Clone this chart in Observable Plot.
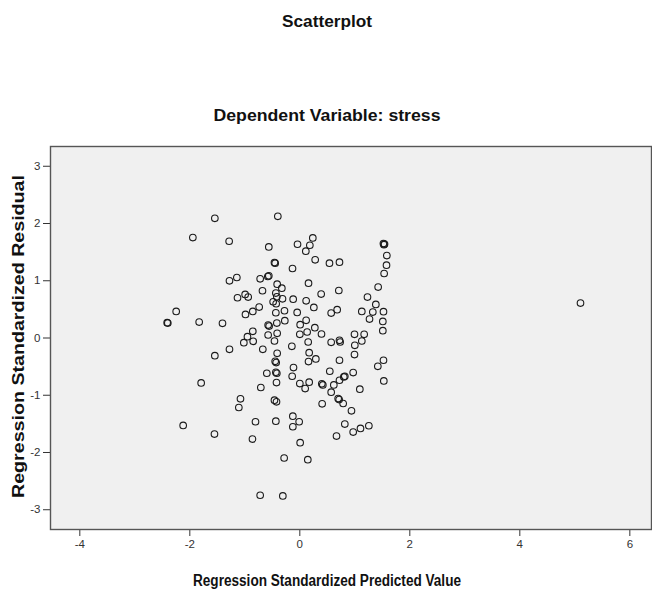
<!DOCTYPE html>
<html><head><meta charset="utf-8">
<script src="https://cdn.jsdelivr.net/npm/d3@7"></script>
<script src="https://cdn.jsdelivr.net/npm/@observablehq/plot@0.6"></script>
<style>body{margin:0;background:#fff;} svg{display:block}</style>
</head><body><div id="chart"></div>
<script>
const predicted = [-1.545,-0.40,-1.945,-1.285,-0.564,-0.042,0.109,0.182,0.236,0.279,
-0.461,-0.448,-0.133,-1.279,-1.145,-0.721,-0.582,-0.564,-0.412,-0.327,
0.158,-0.679,-1.133,-0.994,-0.939,-0.436,-0.418,-0.315,-0.121,0.115,
0.388,-0.485,-0.43,0.255,-0.739,-0.855,-0.988,-0.279,-0.436,-0.048,
-2.412,-2.40,-2.248,-1.83,-1.406,-0.576,-0.558,-0.418,-0.273,0.006,
0.115,0.273,0.394,0.0,0.133,-0.412,-0.576,-0.855,-0.952,-1.018,
-0.848,-0.461,-0.145,0.152,-1.279,-1.545,-0.673,-0.412,0.17,0.291,
0.158,-0.448,-0.43,-0.115,-0.139,-0.6,-0.436,-0.418,-1.794,-0.709,
-0.424,0.0,0.17,0.097,0.4,0.418,-1.079,-1.109,-0.461,-0.424,
0.406,-2.121,-1.552,-0.806,-0.436,-0.127,-0.012,-0.127,-0.861,0.006,
-0.285,0.145,-0.721,-0.309,
1.52,1.54,1.53,1.582,1.576,1.533,1.424,1.23,1.382,1.127,1.327,1.267,1.521,1.509,1.509,
0.539,0.721,0.709,0.679,0.57,0.994,1.17,1.127,1.0,0.57,0.721,0.733,
0.994,0.721,1.521,1.418,1.527,0.545,0.97,0.818,0.8,0.721,0.618,0.57,0.697,0.715,
0.788,1.091,0.939,0.818,0.667,0.97,1.103,1.255,5.103];
const residual = [2.09,2.125,1.754,1.69,1.591,1.638,1.516,1.62,1.748,1.365,
1.318,1.307,1.214,0.999,1.057,1.034,1.074,1.086,0.941,0.871,
0.958,0.825,0.703,0.761,0.714,0.784,0.72,0.685,0.679,0.65,
0.767,0.633,0.598,0.534,0.54,0.465,0.412,0.476,0.441,0.447,
0.267,0.261,0.465,0.279,0.256,0.226,0.209,0.261,0.302,0.232,
0.308,0.18,0.07,0.064,0.105,0.081,0.052,0.116,0.023,-0.081,
-0.058,-0.052,-0.145,-0.07,-0.197,-0.308,-0.197,-0.267,-0.256,-0.366,
-0.412,-0.407,-0.43,-0.517,-0.668,-0.616,-0.598,-0.616,-0.784,-0.865,
-0.778,-0.796,-0.772,-0.883,-0.801,-0.819,-1.063,-1.214,-1.086,-1.115,
-1.15,-1.527,-1.678,-1.463,-1.452,-1.365,-1.463,-1.55,-1.765,-1.829,
-2.096,-2.125,-2.747,-2.758,
1.65,1.64,1.63,1.44,1.272,1.127,0.889,0.714,0.587,0.465,0.453,0.331,0.459,0.29,0.128,
1.307,1.324,0.83,0.494,0.436,0.064,0.064,-0.052,-0.128,-0.075,-0.041,-0.07,
-0.29,-0.389,-0.389,-0.494,-0.749,-0.581,-0.604,-0.668,-0.68,-0.738,-0.819,-0.947,-1.057,-1.075,
-1.144,-0.894,-1.272,-1.504,-1.713,-1.643,-1.58,-1.533,0.61];
const xTicks = [-4, -2, 0, 2, 4, 6];
const yTicks = [-3, -2, -1, 0, 1, 2, 3];
const titleText = "Scatterplot";
const subtitleText = "Dependent Variable: stress";
const xLabel = "Regression Standardized Predicted Value";
const yLabel = "Regression Standardized Residual";

const data = predicted.map((x, i) => ({x, y: residual[i]}));
const font = "'Liberation Sans Narrow','Liberation Sans',Arial,sans-serif";
const fmt = d => String(d);

const chart = Plot.plot({
  width: 652, height: 593,
  marginTop: 146, marginBottom: 64, marginLeft: 50, marginRight: 1,
  style: {fontFamily: font, fontSize: "11.5px", color: "#333", background: "#fff"},
  x: {domain: [-4.533, 6.394], ticks: xTicks, tickFormat: fmt, tickSize: 7, tickPadding: 3, label: null},
  y: {domain: [-3.345, 3.345], ticks: yTicks, tickFormat: fmt, tickSize: 7, tickPadding: 3, label: null},
  marks: [
    Plot.frame({fill: "#f0f0f0"}),
    Plot.dot(data, {x: "x", y: "y", r: 3.3, stroke: "#1a1a1a", strokeWidth: 1.1, fill: "none"}),
    Plot.frame({stroke: "#555", strokeWidth: 1.4})
  ]
});
document.getElementById("chart").append(chart);

const svg = d3.select(chart);
function addText(t, x, y, size, len, rot) {
  const el = svg.append("text")
    .attr("x", x).attr("y", y)
    .attr("text-anchor", "middle")
    .attr("font-family", font)
    .attr("font-weight", "bold")
    .attr("font-size", size)
    .attr("fill", "#111")
    .attr("textLength", len)
    .attr("lengthAdjust", "spacingAndGlyphs")
    .text(t);
  if (rot) el.attr("transform", `rotate(-90 ${x} ${y})`);
}
addText(titleText, 327, 27, 17, 90, false);
addText(subtitleText, 327, 121, 17, 227, false);
addText(xLabel, 327, 586, 16, 268, false);
addText(yLabel, 24, 336.5, 16, 323, true);
</script></body></html>
